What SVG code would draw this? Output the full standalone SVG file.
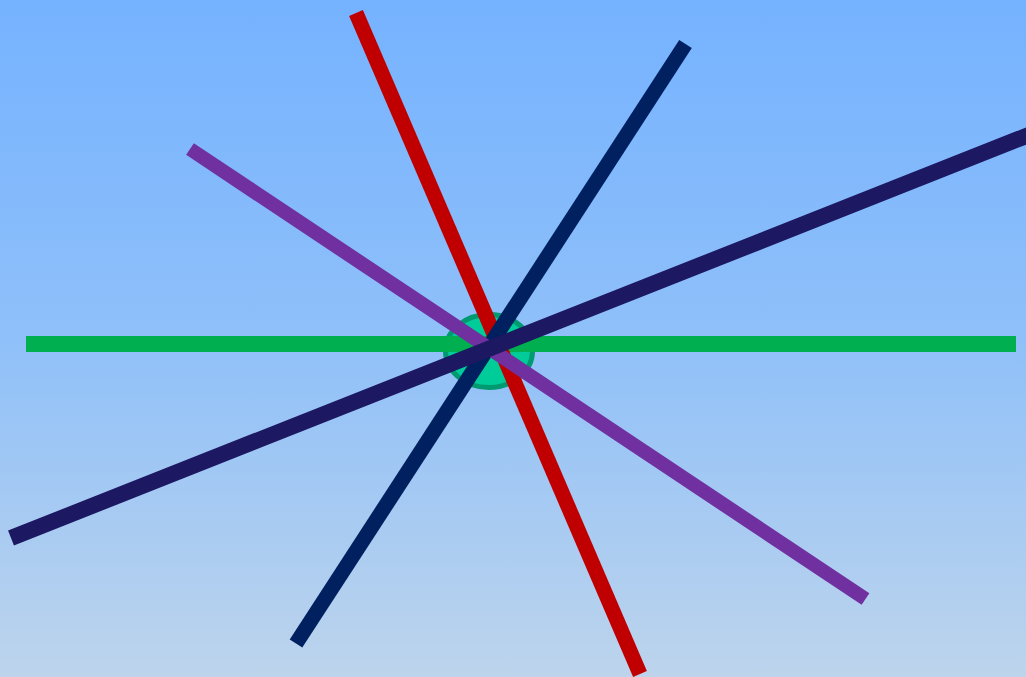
<svg xmlns="http://www.w3.org/2000/svg" width="1026" height="677" viewBox="0 0 1026 677">
  <defs>
    <linearGradient id="bg" x1="0" y1="0" x2="0" y2="1">
      <stop offset="0" stop-color="#75b2ff"/>
      <stop offset="0.5" stop-color="#8fc0f9"/>
      <stop offset="1" stop-color="#bdd4ec"/>
    </linearGradient>
    <style>
      .ln { fill: none; stroke-linecap: butt; }
    </style>
  </defs>
  <rect x="0" y="0" width="1026" height="677" fill="url(#bg)"/>
  <g id="hub">
    <ellipse cx="489" cy="351" rx="43.5" ry="36.5" fill="#00cc99" stroke="#009a70" stroke-width="5"/>
  </g>
  <g id="connectors">
    <line class="ln" x1="26" y1="344" x2="1016" y2="344" stroke="#00b050" stroke-width="16"/>
    <line class="ln" x1="356" y1="13" x2="640" y2="674" stroke="#c00000" stroke-width="15"/>
    <line class="ln" x1="685.5" y1="44" x2="296" y2="643.5" stroke="#002060" stroke-width="15"/>
    <line class="ln" x1="190" y1="149" x2="865.5" y2="599" stroke="#7030a0" stroke-width="14"/>
    <line class="ln" x1="11" y1="538" x2="1040" y2="130.5" stroke="#1c1862" stroke-width="16"/>
  </g>
</svg>
